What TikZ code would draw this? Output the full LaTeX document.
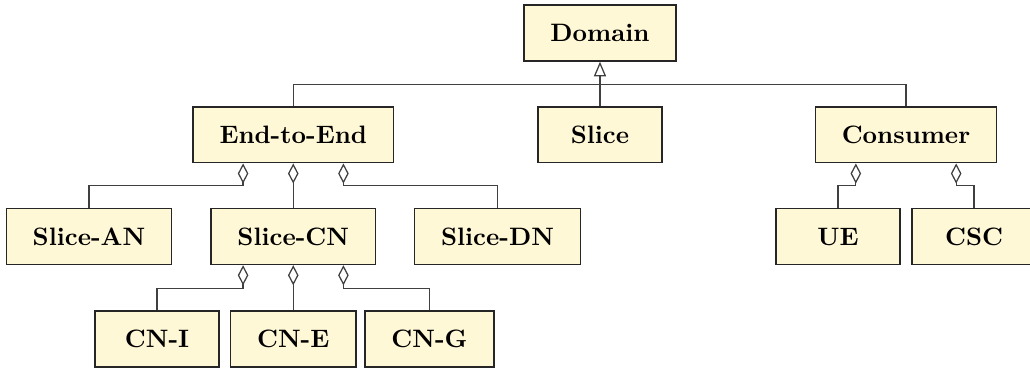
\documentclass[tikz,border=0pt]{standalone}
\usepackage{tikz}
\usetikzlibrary{arrows.meta, positioning}
\pgfdeclarelayer{bg1}
\pgfsetlayers{bg1,main}
\definecolor{clsfill}{RGB}{255,248,214}
\tikzset{
	cls/.style = {rectangle, draw = black!85, line width = 0.6pt, fill = clsfill, minimum width = 1.73cm, minimum height = 0.78cm, inner xsep = 10.5pt, text centered, font = \bfseries},
	line/.style = {draw = black!75, line width = 0.5pt},
	inherit/.style = {line, arrows = {-Triangle[open, length = 5.8pt, width = 4.8pt]}},
	aggr/.style = {line, arrows = {Diamond[open, length = 8pt, width = 4.2pt]-}}
}

\begin{document}
\begin{tikzpicture}[node distance = 1cm]

	\useasboundingbox (-8.372cm,0.46cm) rectangle (6.0cm,-4.688cm);

	% top node
	\node (domain) [cls] at (0cm,0cm) {Domain};

	% second level
	\node (slice) [cls, below of=domain, yshift=-0.42cm] {Slice};
	\node (e2e) [cls, left of=slice, xshift=-3.28cm] {End-to-End};
	\node (consumer) [cls, right of=slice, xshift=3.27cm] {Consumer};

	% third level
	\node (slicecn) [cls, below of=e2e, yshift=-0.42cm] {Slice-CN};
	\node (slicean) [cls, left of=slicecn, xshift=-1.85cm] {Slice-AN};
	\node (slicedn) [cls, right of=slicecn, xshift=1.85cm] {Slice-DN};
	\node (ue) [cls, below of=consumer, xshift=-0.95cm, yshift=-0.42cm] {UE};
	\node (csc) [cls, below of=consumer, xshift=0.95cm, yshift=-0.42cm] {CSC};

	% fourth level
	\node (cne) [cls, below of=slicecn, yshift=-0.43cm] {CN-E};
	\node (cni) [cls, left of=cne, xshift=-0.9cm] {CN-I};
	\node (cng) [cls, right of=cne, xshift=0.9cm] {CN-G};

	% bend points
	\coordinate (bus) at ([yshift=0.3cm]slice.north);
	\coordinate (e2ebend) at ([yshift=-0.31cm]e2e.south);
	\coordinate (conbend) at ([yshift=-0.31cm]consumer.south);
	\coordinate (cnbend) at ([yshift=-0.32cm]slicecn.south);

	%%% arrows %%%
	\begin{pgfonlayer}{bg1}
	\draw [inherit] (slice.north) -- (domain.south);
	\draw [line] (e2e.north) |- (bus) -| (consumer.north);

	\draw [aggr] ([xshift=-0.7cm]e2e.south) |- (slicean.north |- e2ebend) -- (slicean.north);
	\draw [aggr] (e2e.south) -- (slicecn.north);
	\draw [aggr] ([xshift=0.7cm]e2e.south) |- (slicedn.north |- e2ebend) -- (slicedn.north);

	\draw [aggr] ([xshift=-0.7cm]consumer.south) |- (ue.north |- conbend) -- (ue.north);
	\draw [aggr] ([xshift=0.7cm]consumer.south) |- (csc.north |- conbend) -- (csc.north);

	\draw [aggr] ([xshift=-0.7cm]slicecn.south) |- (cni.north |- cnbend) -- (cni.north);
	\draw [aggr] (slicecn.south) -- (cne.north);
	\draw [aggr] ([xshift=0.7cm]slicecn.south) |- (cng.north |- cnbend) -- (cng.north);
	\end{pgfonlayer}
\end{tikzpicture}
\end{document}
